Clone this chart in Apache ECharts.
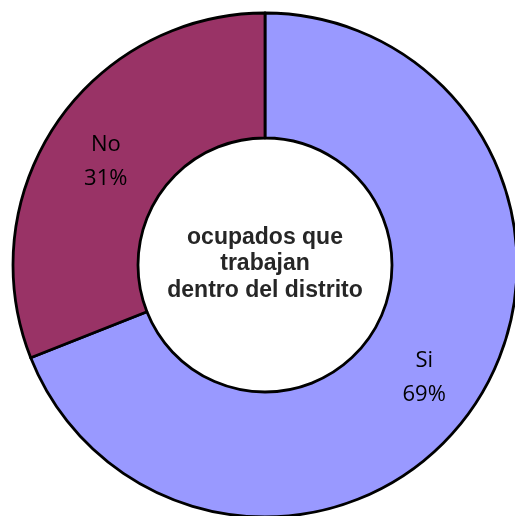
<!DOCTYPE html>
<html>
<head>
<meta charset="UTF-8">
<title>ocupados que trabajan dentro del distrito</title>
<script src="https://cdn.jsdelivr.net/npm/echarts@6/dist/echarts.min.js"></script>
<style>
	html, body{
		margin:0;
		padding:0;
		background:#fff;
	}
	#chart{
		width:515px;
		height:516px;
	}
</style>
</head>
<body>
<div id="chart"></div>
<script>
// datos
var categorias = ['Si', 'No'];
var valores = [69, 31];
var colores = ['#9999FF', '#993366'];
var textoCentro = 'ocupados que\ntrabajan\ndentro del distrito';

var datos = [];
for (var i = 0; i < categorias.length; i++) {
	datos.push({
		name: categorias[i],
		value: valores[i],
		itemStyle: { color: colores[i] }
	});
}

var chart = echarts.init(document.getElementById('chart'));
var option = {
	animation: false,
	graphic: [{
		type: 'text',
		x: 265,
		y: 264,
		style: {
			text: textoCentro,
			fontFamily: 'Liberation Sans, Arial, sans-serif',
			fontWeight: 'bold',
			fontSize: 23,
			lineHeight: 26.5,
			fill: '#262626',
			align: 'center',
			verticalAlign: 'middle'
		}
	}],
	series: [{
		type: 'pie',
		center: [265, 265],
		radius: [127, 252],
		startAngle: 90,
		clockwise: true,
		itemStyle: {
			borderColor: '#000',
			borderWidth: 2.8
		},
		label: {
			show: true,
			position: 'inside',
			formatter: '{b}\n{d}%',
			fontFamily: 'Open Sans, Liberation Sans, sans-serif',
			fontSize: 22,
			lineHeight: 34,
			offset: [0, 5],
			color: '#000'
		},
		labelLine: { show: false },
		emphasis: { disabled: true },
		data: datos
	}]
};
chart.setOption(option);
</script>
</body>
</html>
